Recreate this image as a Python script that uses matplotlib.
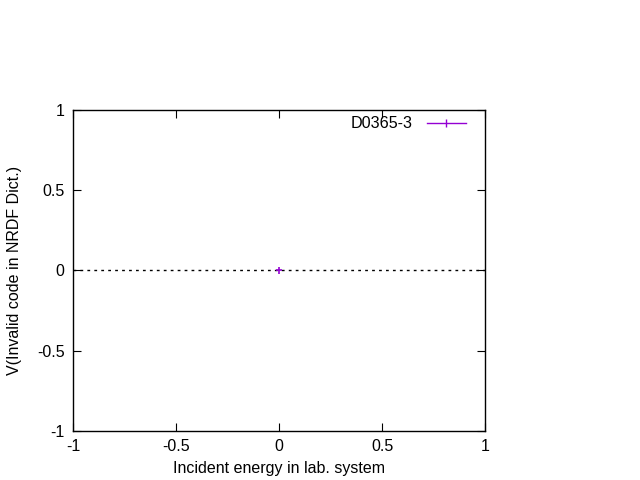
import matplotlib
matplotlib.use('Agg')
import matplotlib.pyplot as plt
from matplotlib.lines import Line2D

plt.rcParams['font.family'] = ['Liberation Sans', 'DejaVu Sans']

# data
energy = [0.0]
value = [0.0]
energy_err = [0.015]
value_err = [0.02]
label = 'D0365-3'

xticks = [-1, -0.5, 0, 0.5, 1]
yticks = [-1, -0.5, 0, 0.5, 1]
tick_labels = ['-1', '-0.5', '0', '0.5', '1']

color = '#9400d3'

fig = plt.figure(figsize=(6.4, 4.8), dpi=100)
ax = fig.add_axes([0.114, 0.102, 0.644, 0.669])

ax.axhline(0, color='black', linestyle=(0, (2, 3)), lw=1)
ax.errorbar(energy, value, xerr=energy_err, yerr=value_err, fmt='none',
            ecolor=color, elinewidth=1.2, capsize=0)

ax.set_xlim(-1, 1)
ax.set_ylim(-1, 1)
ax.set_xticks(xticks)
ax.set_xticklabels(tick_labels)
ax.set_yticks(yticks)
ax.set_yticklabels(tick_labels)
ax.tick_params(direction='in', top=True, right=True, length=6, labelsize=11.5, pad=6)
for s in ax.spines.values():
    s.set_linewidth(1)

ax.set_xlabel('Incident energy in lab. system', fontsize=11.5, labelpad=5)
ax.set_ylabel('V(Invalid code in NRDF Dict.)', fontsize=11.5, labelpad=11)

# gnuplot style key: horizontal bar with a small tick in the middle
handle = Line2D([], [], color=color, lw=1, marker='|', markersize=6, markeredgewidth=1)
leg = ax.legend([handle], [label], loc='upper right', frameon=False, markerfirst=False,
                fontsize=11.6, handlelength=2.45, handletextpad=0.9,
                bbox_to_anchor=(0.962, 0.99), borderaxespad=0, borderpad=0.2, numpoints=1)

fig.savefig('out.png', dpi=100)
